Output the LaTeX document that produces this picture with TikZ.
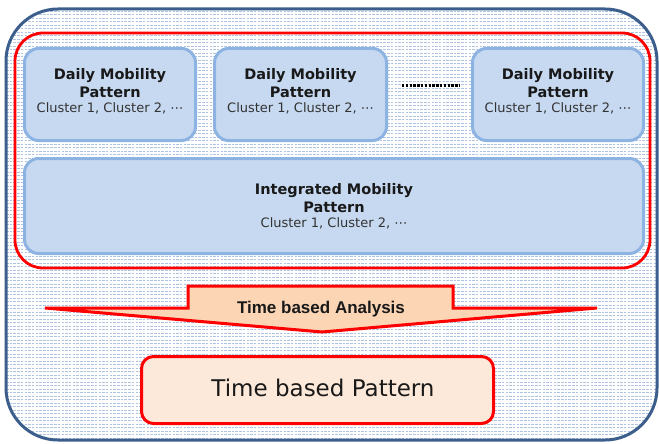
\documentclass[tikz,border=0pt]{standalone}
\usepackage{fontspec}
\setmainfont{DejaVu Sans}
\newfontfamily\arialfont{Liberation Sans}
\usetikzlibrary{calc}

\definecolor{outerblue}{HTML}{3B5E8C}
\definecolor{texblue}{HTML}{AFC4E2}
\definecolor{cellfill}{HTML}{C6D9F1}
\definecolor{celledge}{HTML}{8DB3E2}
\definecolor{peach}{HTML}{FCD5B4}
\definecolor{peachlight}{HTML}{FDE9D9}
\definecolor{alertred}{HTML}{FF0000}
\definecolor{inkgray}{HTML}{333333}

\tikzset{
  texline/.style={draw=texblue, line width=0.9pt, dash pattern=on 2.5pt off 1.2pt},
  cell/.style={draw=celledge, fill=cellfill, line width=3pt, rounded corners=14pt, inner sep=0pt},
  grouping/.style={draw=alertred, line width=2.8pt, rounded corners=28pt, inner sep=0pt},
  resultbox/.style={draw=alertred, fill=peachlight, line width=3pt, rounded corners=12pt, inner sep=0pt},
  headline/.style={anchor=base, inner sep=0pt, font=\fontsize{14.5}{17}\selectfont\bfseries, text=black!90},
  subline/.style={anchor=base, inner sep=0pt, font=\fontsize{13}{15}\selectfont, text=inkgray},
}

\begin{document}
\begin{tikzpicture}[x=1pt,y=-1pt]
\useasboundingbox (0,0) rectangle (659,444);

% outer panel with a fine dashed texture
\fill[white, rounded corners=52pt] (6,9) rectangle (657,440);
\begin{scope}
  \clip[rounded corners=52pt] (6,9) rectangle (657,440);
  \foreach \yy in {11,14.5,...,440} \draw[texline] (6,\yy) -- (657,\yy);
\end{scope}
\draw[outerblue, line width=3pt, rounded corners=52pt] (6,9) rectangle (657,440);

% red grouping frame
\node[grouping, minimum width=635pt, minimum height=235pt] (grp) at (332.5,150.5) {};

% daily pattern boxes
\node[cell, minimum width=171pt, minimum height=92pt] (d1) at (110,94.5) {};
\node[cell, minimum width=172pt, minimum height=92pt] (d2) at (300.5,94.5) {};
\node[cell, minimum width=171pt, minimum height=92pt] (d3) at (558,94.5) {};

\foreach \b in {d1,d2,d3} {
  \node[headline] (\b-a) at ($(\b.center)+(0,-14.5)$) {Daily Mobility};
  \node[headline] (\b-b) at ($(\b.center)+(0,2.5)$) {Pattern};
  \node[subline] (\b-c) at ($(\b.center)+(0,18.5)$) {Cluster 1, Cluster 2, \char"22EF};
}

% ellipsis between the second and last daily box
\coordinate (dotsL) at (402,86);
\coordinate (dotsR) at (460,86);
\draw[black, line width=3pt, dash pattern=on 2.4pt off 1.4pt] (dotsL) -- (dotsR);

% integrated pattern box
\node[cell, minimum width=619pt, minimum height=95pt] (ip) at (334,206) {};
\node[headline] (ip-a) at ($(ip.center)+(0,-12)$) {Integrated Mobility};
\node[headline] (ip-b) at ($(ip.center)+(0,6)$) {Pattern};
\node[subline] (ip-c) at ($(ip.center)+(0,21)$) {Cluster 1, Cluster 2, \char"22EF};

% analysis arrow
\draw[alertred, fill=peach, line width=3pt, line join=miter, miter limit=2]
  (188,286) -- (453,286) -- (453,308) -- (597,308) -- (322,332)
  -- (45,308) -- (188,308) -- cycle;
\node[anchor=base, inner sep=0pt, font=\arialfont\fontsize{17}{20}\selectfont\bfseries, text=black!90]
  (tba) at (321,313) {Time based Analysis};

% resulting pattern box
\node[resultbox, minimum width=352pt, minimum height=67pt] (tbp) at (317.5,390) {};
\node[anchor=base, inner sep=0pt, font=\fontsize{23}{27}\selectfont, text=black!90]
  (tbp-t) at (323,396) {Time based Pattern};
\end{tikzpicture}
\end{document}
